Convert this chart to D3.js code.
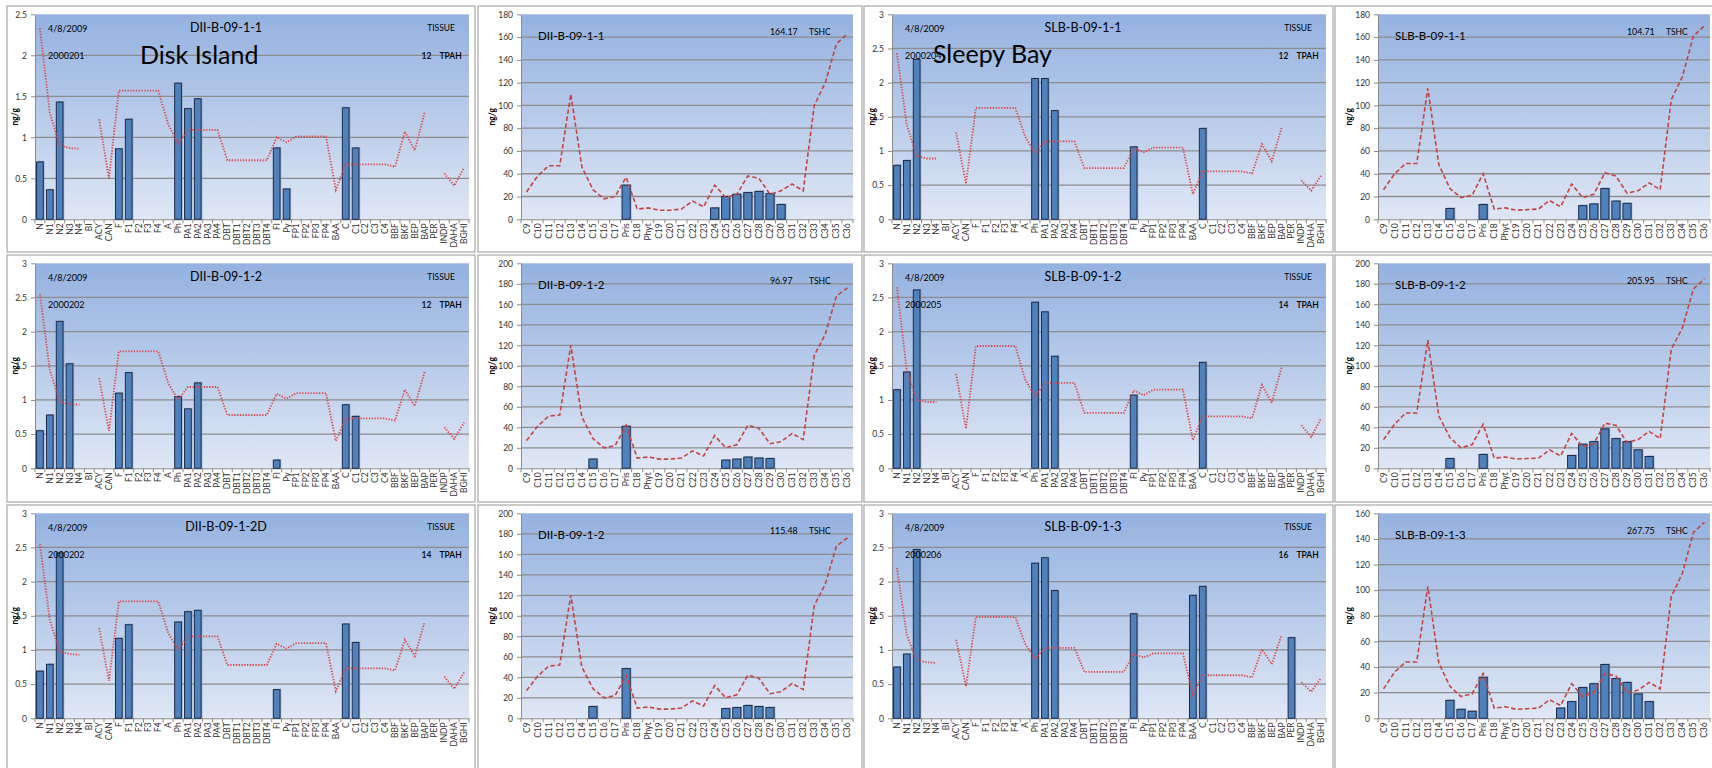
<!DOCTYPE html>
<html lang="en">
<head>
<meta charset="UTF-8">
<title>Tissue PAH and SHC profiles - Disk Island / Sleepy Bay</title>
<script src="https://d3js.org/d3.v7.min.js"></script>
<style>
  body { margin: 0; background: #fff; font-family: Lato, "Liberation Sans", sans-serif; }
  svg { display: block; }
  .tick text { fill: #333; }
</style>
</head>
<body>
<svg width="1712" height="768"></svg>
<script>
// categories
const pahCats = ["N","N1","N2","N3","N4","BI","ACY","CAN","F","F1","F2","F3","F4","A","Ph","PA1","PA2","PA3","PA4",
  "DBT","DBT1","DBT2","DBT3","DBT4","Fl","Py","FP1","FP2","FP3","FP4","BAA","C","C1","C2","C3","C4",
  "BBF","BKF","BEP","BAP","PER","INDP","DAHA","BGHI"];
const shcCats = ["C9","C10","C11","C12","C13","C14","C15","C16","C17","Pris","C18","Phyt","C19","C20","C21","C22",
  "C23","C24","C25","C26","C27","C28","C29","C30","C31","C32","C33","C34","C35","C36"];

// PAH bars (measured) and reference profile line
const dii1Bars = [["N",0.70],["N1",0.36],["N2",1.43],["F",0.86],["F1",1.22],["Ph",1.66],["PA1",1.35],["PA2",1.47],["Fl",0.87],["Py",0.37],["C",1.36],["C1",0.87]];
const slb1Bars = [["N",0.79],["N1",0.86],["N2",2.34],["Ph",2.06],["PA1",2.06],["PA2",1.59],["Fl",1.06],["C",1.33]];
const dii2Bars = [["N",0.55],["N1",0.78],["N2",2.15],["N3",1.53],["F",1.10],["F1",1.40],["Ph",1.05],["PA1",0.87],["PA2",1.25],["Fl",0.12],["C",0.93],["C1",0.76]];
const slb2Bars = [["N",1.15],["N1",1.41],["N2",2.61],["Ph",2.43],["PA1",2.29],["PA2",1.64],["Fl",1.07],["C",1.55]];
const dii2dBars = [["N",0.69],["N1",0.79],["N2",2.42],["F",1.17],["F1",1.37],["Ph",1.41],["PA1",1.56],["PA2",1.58],["Fl",0.42],["C",1.38],["C1",1.11]];
const slb3Bars = [["N",0.75],["N1",0.94],["N2",2.47],["Ph",2.27],["PA1",2.35],["PA2",1.87],["Fl",1.53],["BAA",1.80],["C",1.93],["PER",1.18]];

const dii1Line = [2.33,1.30,0.90,0.87,0.86,null,1.22,0.50,1.57,1.57,1.57,1.57,1.57,1.16,0.92,1.09,1.09,1.09,1.09,
  0.72,0.72,0.72,0.72,0.72,1.00,0.94,1.01,1.01,1.01,1.01,0.36,0.67,0.67,0.67,0.67,0.67,0.64,1.07,0.84,1.30,null,0.56,0.41,0.63];
const slb1Line = [2.43,1.38,0.93,0.89,0.89,null,1.27,0.52,1.63,1.63,1.63,1.63,1.63,1.21,0.96,1.14,1.14,1.14,1.14,
  0.75,0.75,0.75,0.75,0.75,1.04,0.98,1.05,1.05,1.05,1.05,0.37,0.70,0.70,0.70,0.70,0.70,0.67,1.10,0.85,1.34,null,0.57,0.42,0.64];
const dii2Line = [2.55,1.44,0.98,0.94,0.93,null,1.32,0.55,1.71,1.71,1.71,1.71,1.71,1.25,1.00,1.19,1.19,1.19,1.19,
  0.78,0.78,0.78,0.78,0.78,1.09,1.02,1.10,1.10,1.10,1.10,0.40,0.73,0.73,0.73,0.73,0.73,0.70,1.15,0.91,1.41,null,0.60,0.43,0.67];
const slb2Line = [2.65,1.43,1.00,0.97,0.97,null,1.38,0.58,1.79,1.79,1.79,1.79,1.79,1.30,1.05,1.25,1.25,1.25,1.25,
  0.81,0.81,0.81,0.81,0.81,1.14,1.07,1.15,1.15,1.15,1.15,0.41,0.76,0.76,0.76,0.76,0.76,0.73,1.22,0.96,1.48,null,0.63,0.46,0.73];
const dii2dLine = [2.55,1.44,0.98,0.94,0.93,null,1.32,0.55,1.71,1.71,1.71,1.71,1.71,1.25,1.00,1.20,1.20,1.20,1.20,
  0.78,0.78,0.78,0.78,0.78,1.09,1.02,1.10,1.10,1.10,1.10,0.40,0.73,0.73,0.73,0.73,0.73,0.70,1.15,0.91,1.41,null,0.61,0.43,0.67];
const slb3Line = [2.20,1.22,0.85,0.82,0.81,null,1.15,0.47,1.48,1.48,1.48,1.48,1.48,1.09,0.87,1.03,1.03,1.03,1.03,
  0.68,0.68,0.68,0.68,0.68,0.94,0.89,0.95,0.95,0.95,0.95,0.34,0.63,0.63,0.63,0.63,0.63,0.60,1.01,0.79,1.22,null,0.53,0.39,0.59];

// SHC bars and reference profile line
const dii1ShcBars = [["Pris",30],["C24",10],["C25",20],["C26",22],["C27",23.5],["C28",24.5],["C29",22.5],["C30",13]];
const slb1ShcBars = [["C15",9.5],["Pris",13],["C25",12],["C26",13.5],["C27",27],["C28",16],["C29",14]];
const dii2ShcBars = [["C15",9],["Pris",41],["C25",8],["C26",9],["C27",11],["C28",10],["C29",9.5]];
const slb2ShcBars = [["C15",9.5],["Pris",13.5],["C24",12.5],["C25",23.5],["C26",26],["C27",38.5],["C28",29],["C29",26],["C30",18],["C31",11.5]];
const dii2dShcBars = [["C15",11.5],["Pris",48.5],["C25",9.5],["C26",10.5],["C27",12.5],["C28",11.5],["C29",10.5]];
const slb3ShcBars = [["C15",14],["C16",7],["C17",5.5],["Pris",32],["C23",8],["C24",13],["C25",24],["C26",27],["C27",42],["C28",31],["C29",28],["C30",19],["C31",13]];

const dii1ShcLine = [24,38,47,47,110,46,26,18,20,37,9,10,8,8,9,16,11,30,19,22,38,36,22,25,31,25,100,120,154,163];
const slb1ShcLine = [26,40,49,49,115,48,27,19,21,40,9,10,8,8.5,9,16.5,11,31,19,22,41,38,23,25,32,26,105,125,161,170];
const dii2ShcLine = [27,41,51,52,120,50,29,20,22,42,10,11,9,9,10,17,12,32,20,23,42,39,24,26,34,28,110,131,168,176];
const slb2ShcLine = [28,43,54,54,125,51,30,20,23,43,10,11,9,9.5,10,18,12,34,21,24,44,42,25,28,36,29,116,137,175,185];
const dii2dShcLine = [27,41,51,52,120,50,29,20,22,42,10,11,9,9,10,17,12,32,20,23,42,39,24,26,34,28,110,131,168,176];
const slb3ShcLine = [23,36,44,44,103,43,25,17,19,35,8,9,7,7.5,8,14.5,10,27,17,20,35,33,20,22,28,23,95,113,145,153];

const panels = [
  {row:0, col:0, kind:"pah", title:"DII-B-09-1-1", id:"2000201", total:"12", yMax:2.5, bars:dii1Bars, line:dii1Line},
  {row:0, col:1, kind:"shc", title:"DII-B-09-1-1", total:"164.17", yMax:180, bars:dii1ShcBars, line:dii1ShcLine},
  {row:0, col:2, kind:"pah", title:"SLB-B-09-1-1", id:"2000204", total:"12", yMax:3, bars:slb1Bars, line:slb1Line},
  {row:0, col:3, kind:"shc", title:"SLB-B-09-1-1", total:"104.71", yMax:180, bars:slb1ShcBars, line:slb1ShcLine},
  {row:1, col:0, kind:"pah", title:"DII-B-09-1-2", id:"2000202", total:"12", yMax:3, bars:dii2Bars, line:dii2Line},
  {row:1, col:1, kind:"shc", title:"DII-B-09-1-2", total:"96.97", yMax:200, bars:dii2ShcBars, line:dii2ShcLine},
  {row:1, col:2, kind:"pah", title:"SLB-B-09-1-2", id:"2000205", total:"14", yMax:3, bars:slb2Bars, line:slb2Line},
  {row:1, col:3, kind:"shc", title:"SLB-B-09-1-2", total:"205.95", yMax:200, bars:slb2ShcBars, line:slb2ShcLine},
  {row:2, col:0, kind:"pah", title:"DII-B-09-1-2D", id:"2000202", total:"14", yMax:3, bars:dii2dBars, line:dii2dLine},
  {row:2, col:1, kind:"shc", title:"DII-B-09-1-2", total:"115.48", yMax:200, bars:dii2dShcBars, line:dii2dShcLine},
  {row:2, col:2, kind:"pah", title:"SLB-B-09-1-3", id:"2000206", total:"16", yMax:3, bars:slb3Bars, line:slb3Line},
  {row:2, col:3, kind:"shc", title:"SLB-B-09-1-3", total:"267.75", yMax:160, bars:slb3ShcBars, line:slb3ShcLine}
];
const siteLabels = [{text:"Disk Island", col:0, x:133, y:58}, {text:"Sleepy Bay", col:2, x:69, y:57}];

// grid layout of the pasted excel charts
const colX = [7, 478, 864, 1335], colW = [468, 384, 469, 400];
const rowY = [6, 255, 505], rowH = [246, 247, 300];

const svg = d3.select("svg");
const defs = svg.append("defs");
const grad = defs.append("linearGradient").attr("id", "plotBg").attr("x1", 0).attr("y1", 0).attr("x2", 0).attr("y2", 1);
grad.append("stop").attr("offset", "0%").attr("stop-color", "#94b2e0");
grad.append("stop").attr("offset", "50%").attr("stop-color", "#b8cbea");
grad.append("stop").attr("offset", "100%").attr("stop-color", "#dfe7f5");

panels.forEach(drawPanel);

siteLabels.forEach(s => {
    svg.append("text")
        .attr("x", colX[s.col] + s.x)
        .attr("y", rowY[0] + s.y)
        .attr("font-size", 25)
        .attr("fill", "#000")
        .text(s.text);
});

function drawPanel(p) {
    const isPah = p.kind === "pah";
    const cats = isPah ? pahCats : shcCats;
    const left = isPah ? 28 : 43, w = isPah ? 434 : 332;
    const top = 8.3, h = 205;

    const g = svg.append("g").attr("transform", `translate(${colX[p.col]},${rowY[p.row]})`);
    g.append("rect")
        .attr("width", colW[p.col]).attr("height", rowH[p.row])
        .attr("fill", "#fff").attr("stroke", "#a8a8a8").attr("stroke-width", 1.2);

    const pin = isPah ? 0.32 : 0.26;
    const x = d3.scaleBand().domain(cats).range([left, left + w]).paddingInner(pin).paddingOuter(pin / 2);
    const y = d3.scaleLinear().domain([0, p.yMax]).range([top + h, top]);
    const step = isPah ? 0.5 : 20;
    const ticks = d3.range(0, p.yMax + step / 2, step);

    g.append("rect")
        .attr("x", left).attr("y", top).attr("width", w).attr("height", h)
        .attr("fill", "url(#plotBg)");

    // gridlines
    g.append("g").selectAll("line")
        .data(ticks.filter(t => t > 0 && t < p.yMax))
        .enter().append("line")
        .attr("x1", left).attr("x2", left + w)
        .attr("y1", d => y(d)).attr("y2", d => y(d))
        .attr("stroke", "#8c8c8c").attr("stroke-width", 1.3);

    // y axis
    const yAxis = g.append("g")
        .attr("transform", `translate(${left},0)`)
        .call(d3.axisLeft(y).tickValues(ticks).tickSize(4).tickSizeOuter(0).tickPadding(4)
            .tickFormat(d => String(+d.toFixed(1))));
    yAxis.selectAll("path, line").attr("stroke", "#8a8a8a");
    yAxis.selectAll("text").attr("font-size", 8.5).attr("font-family", "Lato, sans-serif");

    // x axis with ticks between categories
    const xAxis = g.append("g")
        .attr("transform", `translate(0,${top + h})`)
        .call(d3.axisBottom(x).tickSize(0).tickSizeOuter(0));
    xAxis.select(".domain").attr("stroke", "#8a8a8a");
    xAxis.selectAll("text")
        .attr("transform", "rotate(-90)")
        .attr("text-anchor", "end")
        .attr("x", -4).attr("y", 0).attr("dy", "0.35em")
        .attr("font-size", 8.5).attr("font-family", "Lato, sans-serif");
    xAxis.append("g").selectAll("line")
        .data(d3.range(cats.length + 1))
        .enter().append("line")
        .attr("x1", i => left + i * x.step()).attr("x2", i => left + i * x.step())
        .attr("y1", 0).attr("y2", 4)
        .attr("stroke", "#8a8a8a");

    // bars
    const bw = x.bandwidth();
    const barG = g.append("g");
    barG.selectAll("rect.shadow")
        .data(p.bars)
        .enter().append("rect")
        .attr("class", "shadow")
        .attr("x", d => x(d[0]) + 1.3).attr("y", d => y(d[1]) - 1)
        .attr("width", bw).attr("height", d => y(0) - y(d[1]) + 1)
        .attr("fill", "#8d9ab0").attr("opacity", 0.7);
    barG.selectAll("rect.bar")
        .data(p.bars)
        .enter().append("rect")
        .attr("class", "bar")
        .attr("x", d => x(d[0])).attr("y", d => y(d[1]))
        .attr("width", bw).attr("height", d => y(0) - y(d[1]))
        .attr("fill", "#4f81bd").attr("stroke", "#1b2c4c").attr("stroke-width", 1);

    // reference profile line
    const pts = p.line.map((v, i) => ({c: cats[i], v: v}));
    const line = d3.line()
        .defined(d => d.v != null)
        .x(d => x(d.c) + bw / 2)
        .y(d => y(d.v));
    g.append("path")
        .datum(pts)
        .attr("d", line)
        .attr("fill", "none")
        .attr("stroke", isPah ? "#e04545" : "#c8423f")
        .attr("stroke-width", isPah ? 1.8 : 1.6)
        .attr("stroke-dasharray", isPah ? "1.3,1.5" : "4.5,2.5");

    // y label
    g.append("text")
        .attr("transform", `translate(${isPah ? 11 : 17},${top + h / 2}) rotate(-90)`)
        .attr("text-anchor", "middle")
        .attr("font-size", 8.5).attr("font-weight", "bold")
        .text("ng/g");

    // annotations
    if (isPah) {
        g.append("text").attr("x", 41).attr("y", 25.7).attr("font-size", 9).text("4/8/2009");
        g.append("text").attr("x", 41).attr("y", 53).attr("font-size", 9).text(p.id);
        g.append("text").attr("x", 219).attr("y", 26).attr("text-anchor", "middle").attr("font-size", 12.5).text(p.title);
        g.append("text").attr("x", 448).attr("y", 24.7).attr("text-anchor", "end").attr("font-size", 8.5).text("TISSUE");
        g.append("text").attr("x", 414.5).attr("y", 53.3).attr("font-size", 8.5).attr("font-weight", 600).text(p.total);
        g.append("text").attr("x", 432.5).attr("y", 53.3).attr("font-size", 8.5).attr("font-weight", 600).text("TPAH");
    } else {
        g.append("text").attr("x", 60).attr("y", 34).attr("font-size", 11.5).text(p.title);
        g.append("text").attr("x", 292).attr("y", 29.3).attr("font-size", 8.8).text(p.total);
        g.append("text").attr("x", 331).attr("y", 29.3).attr("font-size", 8.5).text("TSHC");
    }
}
</script>
</body>
</html>
